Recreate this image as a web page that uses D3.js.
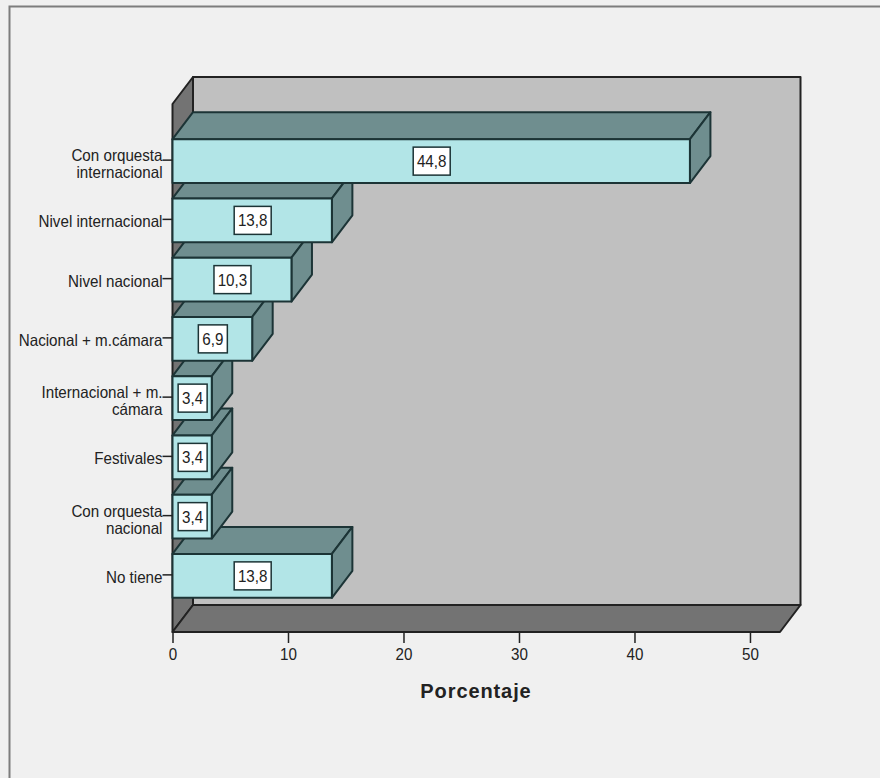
<!DOCTYPE html>
<html>
<head>
<meta charset="utf-8">
<script src="https://cdn.jsdelivr.net/npm/d3@7"></script>
<style>
html,body{margin:0;padding:0;background:#f0f0f0;}
svg{display:block;}
text{font-family:"Liberation Sans",Arial,sans-serif;fill:#222;}
</style>
</head>
<body>
<svg id="chart" width="880" height="778"></svg>
<script>
// Percentage of respondents per category
const categories = [
  ["Con orquesta", "internacional"],
  ["Nivel internacional"],
  ["Nivel nacional"],
  ["Nacional + m.cámara"],
  ["Internacional + m.", "cámara"],
  ["Festivales"],
  ["Con orquesta", "nacional"],
  ["No tiene"]
];
const values = [44.8, 13.8, 10.3, 6.9, 3.4, 3.4, 3.4, 13.8];
const xTicks = [0, 10, 20, 30, 40, 50];
const axisTitle = "Porcentaje";

const colors = {
  page: "#f0f0f0", frame: "#7d7d7d", back: "#c0c0c0", wall: "#737373",
  front: "#b2e5e7", shade: "#6f8e8f", edge: "#1c3436", line: "#222222"
};

const floorY = 632, topY = 104;       // front plane of the plot
const depthX = 20.5, depthY = -27;    // oblique offset of the 3D box
const labelSize = 16.5;               // axis and value text size
const condense = "scale(0.92,1)";     // narrows the sans face horizontally

const x = d3.scaleLinear().domain([0, 52.6]).range([172.5, 780]);
const y = d3.scaleBand().domain(d3.range(categories.length))
  .range([131.5, 605.5]).paddingInner(0.26).paddingOuter(0.13);

const svg = d3.select("#chart");
const poly = pts => pts.map(p => p.join(",")).join(" ");

// Outer frame: only top and left edges fall inside the canvas
svg.append("path").attr("d", "M9.5,778V6.5H880")
  .attr("fill", "none").attr("stroke", colors.frame).attr("stroke-width", 2);

// Box: back wall, left wall, floor
const x0 = x(0), x1 = x.range()[1];
const box = svg.append("g").attr("stroke", colors.line).attr("stroke-width", 2).attr("stroke-linejoin", "round");
box.append("polygon").attr("fill", colors.back)
  .attr("points", poly([[x0 + depthX, topY + depthY], [x1 + depthX, topY + depthY], [x1 + depthX, floorY + depthY], [x0 + depthX, floorY + depthY]]));
box.append("polygon").attr("fill", colors.wall)
  .attr("points", poly([[x0, topY], [x0 + depthX, topY + depthY], [x0 + depthX, floorY + depthY], [x0, floorY]]));
box.append("polygon").attr("fill", colors.wall)
  .attr("points", poly([[x0, floorY], [x0 + depthX, floorY + depthY], [x1 + depthX, floorY + depthY], [x1, floorY]]));

// Bars are painted from the bottom up so upper bars overlap the ones below
const order = d3.range(values.length).reverse();
const bars = svg.append("g").selectAll("g").data(order).join("g")
  .attr("stroke", colors.edge).attr("stroke-width", 2).attr("stroke-linejoin", "round");
bars.append("polygon").attr("fill", colors.shade).attr("points", i => {
  const t = y(i), r = x(values[i]);
  return poly([[x0, t], [x0 + depthX, t + depthY], [r + depthX, t + depthY], [r, t]]);
});
bars.append("polygon").attr("fill", colors.shade).attr("points", i => {
  const t = y(i), b = t + y.bandwidth(), r = x(values[i]);
  return poly([[r, t], [r + depthX, t + depthY], [r + depthX, b + depthY], [r, b]]);
});
bars.append("rect").attr("fill", colors.front)
  .attr("x", x0).attr("y", i => y(i))
  .attr("width", i => x(values[i]) - x0).attr("height", y.bandwidth());

// Value labels in white boxes
const labels = svg.append("g").selectAll("g").data(order).join("g")
  .attr("transform", i => `translate(${(x0 + x(values[i])) / 2},${y(i) + y.bandwidth() / 2})`);
const fmt = v => v.toFixed(1).replace(".", ",");
labels.append("rect")
  .attr("x", i => values[i] >= 10 ? -18 : -14).attr("y", -14)
  .attr("width", i => values[i] >= 10 ? 37 : 29).attr("height", 28)
  .attr("fill", "#fff").attr("stroke", colors.edge).attr("stroke-width", 1.5);
labels.append("text").attr("text-anchor", "middle").attr("dy", "0.36em").attr("dx", 0.5)
  .attr("transform", condense)
  .attr("font-size", labelSize).text(i => fmt(values[i]));

// Category axis: ticks and right-aligned, possibly two-line labels
const cat = svg.append("g").selectAll("g").data(d3.range(categories.length)).join("g")
  .attr("transform", i => `translate(${x0},${y(i) + y.bandwidth() / 2})`);
cat.append("line").attr("x1", -10).attr("x2", 0).attr("y1", -1).attr("y2", -1)
  .attr("stroke", colors.line).attr("stroke-width", 1.5);
cat.append("text").attr("text-anchor", "end").attr("font-size", labelSize)
  .attr("transform", `translate(-10,0) ${condense}`)
  .selectAll("tspan").data(i => categories[i].map((s, k) => ({ s, k, n: categories[i].length }))).join("tspan")
  .attr("x", 0)
  .attr("y", d => d.n > 1 ? (d.k === 0 ? 0 : 17) : 7)
  .text(d => d.s);

// Value axis on the front edge of the floor
const xAxis = svg.append("g").attr("transform", `translate(0,${floorY})`)
  .call(d3.axisBottom(x).tickValues(xTicks).tickSize(11).tickPadding(5).tickFormat(d3.format("d")));
xAxis.select(".domain").remove();
xAxis.selectAll("line").attr("stroke", colors.line).attr("stroke-width", 1.5);
xAxis.selectAll("text").attr("font-size", labelSize).attr("transform", condense)
  .attr("font-family", '"Liberation Sans",Arial,sans-serif').attr("fill", "#222");

svg.append("text").attr("x", 476).attr("y", 698).attr("text-anchor", "middle")
  .attr("font-size", 20).attr("font-weight", "bold").attr("letter-spacing", 0.9).attr("fill", "#111")
  .text(axisTitle);
</script>
</body>
</html>
